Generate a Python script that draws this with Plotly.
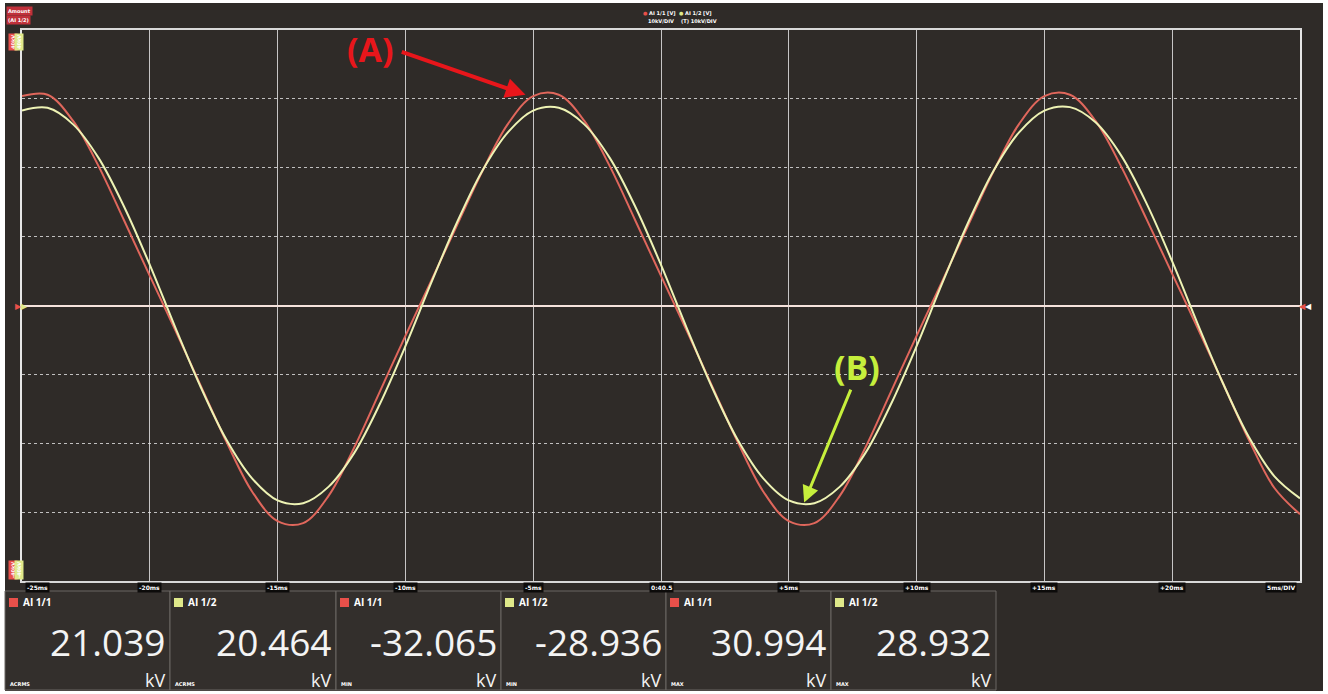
import plotly.graph_objects as go

# ---------------- data ----------------
# time axis in ms, sampled every 1 ms
time_ms = [-25, -24, -23, -22, -21, -20, -19, -18, -17, -16, -15, -14, -13, -12, -11,
           -10, -9, -8, -7, -6, -5, -4, -3, -2, -1, 0, 1, 2, 3, 4, 5, 6, 7, 8, 9,
           10, 11, 12, 13, 14, 15, 16, 17, 18, 19, 20, 21, 22, 23, 24, 25]

# AI 1/1 (red), kV
red_kv = [30.4, 30.6, 26.8, 20.2, 12.3, 4.3, -3.6, -11.7, -19.8, -27.0, -31.3, -31.6, -27.6,
          -20.6, -12.5, -4.4, 3.5, 11.5, 19.4, 26.3, 30.4, 30.6, 26.8, 20.2, 12.3, 4.3,
          -3.6, -11.7, -19.8, -27.0, -31.3, -31.6, -27.6, -20.6, -12.5, -4.4, 3.5, 11.5,
          19.4, 26.3, 30.4, 30.6, 26.8, 20.2, 12.5, 4.6, -3.3, -11.4, -19.5, -26.5, -30.3]

# AI 1/2 (yellow), kV
yel_kv = [28.3, 28.7, 26.3, 21.4, 14.3, 5.9, -3.2, -11.9, -19.5, -25.1, -28.3, -28.7, -26.3,
          -21.4, -14.3, -5.9, 3.2, 11.9, 19.5, 25.1, 28.3, 28.7, 26.3, 21.4, 14.3, 5.9,
          -3.2, -11.9, -19.5, -25.1, -28.3, -28.7, -26.3, -21.4, -14.3, -5.9, 3.2, 11.9,
          19.5, 25.1, 28.3, 28.8, 26.6, 21.8, 14.8, 6.4, -2.7, -11.4, -19.1, -24.8, -28.0]

tick_ms = [-25, -20, -15, -10, -5, 0, 5, 10, 15, 20, 25]
tick_txt = ["-25ms", "-20ms", "-15ms", "-10ms", "-5ms", "0:40.5", "+5ms", "+10ms",
            "+15ms", "+20ms", "5ms/DIV"]

panel_channels = ["AI 1/1", "AI 1/2", "AI 1/1", "AI 1/2", "AI 1/1", "AI 1/2"]
panel_values = ["21.039", "20.464", "-32.065", "-28.936", "30.994", "28.932"]
panel_stats = ["ACRMS", "ACRMS", "MIN", "MIN", "MAX", "MAX"]
panel_unit = "kV"

# ---------------- styling ----------------
RED = "#e0675c"
YEL = "#eef3b4"
RED_SW = "#e8504a"
YEL_SW = "#dfe98a"
BG = "#34302d"
OUT = "#2f2b28"

W, H = 1328, 694
PL, PR, PT, PB = 22, 1300, 30, 581   # plot area in pixels


def px(x):
    return (x - PL) / (PR - PL)


def py(y):
    return (PB - y) / (PB - PT)


fig = go.Figure()
fig.add_trace(go.Scatter(x=time_ms, y=red_kv, mode="lines", name="AI 1/1",
                         line=dict(color=RED, width=2, shape="spline", smoothing=1.0)))
fig.add_trace(go.Scatter(x=time_ms, y=yel_kv, mode="lines", name="AI 1/2",
                         line=dict(color=YEL, width=2, shape="spline", smoothing=1.0)))

shapes = []
# outer dark panel
shapes.append(dict(type="rect", xref="paper", yref="paper", layer="below",
                   x0=px(5), x1=px(1323), y0=py(691), y1=py(3),
                   fillcolor=OUT, line=dict(width=0)))
# bottom stat boxes
edges = [5, 170, 336, 501, 666, 831, 996]
for i in range(6):
    shapes.append(dict(type="rect", xref="paper", yref="paper", layer="below",
                       x0=px(edges[i]), x1=px(edges[i + 1]), y0=py(690), y1=py(591),
                       fillcolor="#332f2c", line=dict(color="#6a6663", width=1)))
    col = RED_SW if panel_channels[i] == "AI 1/1" else YEL_SW
    shapes.append(dict(type="rect", xref="paper", yref="paper",
                       x0=px(edges[i] + 4), x1=px(edges[i] + 13), y0=py(607), y1=py(598),
                       fillcolor=col, line=dict(width=0)))

annotations = []
# bottom time labels
for t, txt in zip(tick_ms, tick_txt):
    anchor = "center"
    xx = t
    if t == -25:
        anchor = "left"
        xx = -24.9
    if t == 25:
        anchor = "right"
        xx = 24.9
    annotations.append(dict(x=xx, y=py(587), xref="x", yref="paper", text="<b>%s</b>" % txt,
                            showarrow=False, xanchor=anchor, yanchor="middle",
                            font=dict(size=6, color="white", family="DejaVu Sans"),
                            bgcolor="#0c0b0a", borderpad=1))

# stat box texts
for i in range(6):
    x0, x1 = edges[i], edges[i + 1]
    annotations.append(dict(x=px(x0 + 16), y=py(602), xref="paper", yref="paper",
                            text="<b>%s</b>" % panel_channels[i], showarrow=False,
                            xanchor="left", yanchor="middle",
                            font=dict(size=10, color="white", family="Open Sans")))
    annotations.append(dict(x=px(x1 - 2), y=py(641), xref="paper", yref="paper",
                            text=panel_values[i], showarrow=False,
                            xanchor="right", yanchor="middle",
                            font=dict(size=37, color="#f4f4f4", family="Open Sans")))
    annotations.append(dict(x=px(x1 - 3), y=py(680), xref="paper", yref="paper",
                            text=panel_unit, showarrow=False,
                            xanchor="right", yanchor="middle",
                            font=dict(size=18, color="#f4f4f4", family="Open Sans")))
    annotations.append(dict(x=px(x0 + 3), y=py(684), xref="paper", yref="paper",
                            text="<b>%s</b>" % panel_stats[i], showarrow=False,
                            xanchor="left", yanchor="middle",
                            font=dict(size=5, color="white", family="DejaVu Sans")))

# (A) arrow and label
annotations.append(dict(x=-5.3, y=30.6, ax=-10.2, ay=36.9, xref="x", yref="y",
                        axref="x", ayref="y", text="", showarrow=True,
                        arrowhead=2, arrowsize=1.0, arrowwidth=4, arrowcolor="#e8161b"))
annotations.append(dict(x=-11.35, y=37.2, xref="x", yref="y", text="<b>(A)</b>",
                        showarrow=False, xanchor="center", yanchor="middle",
                        font=dict(size=34, color="#e8161b", family="Open Sans")))
# (B) arrow and label
annotations.append(dict(x=5.6, y=-28.6, ax=7.45, ay=-12.0, xref="x", yref="y",
                        axref="x", ayref="y", text="", showarrow=True,
                        arrowhead=2, arrowsize=1.1, arrowwidth=3, arrowcolor="#c6ef3c"))
annotations.append(dict(x=7.65, y=-9.0, xref="x", yref="y", text="<b>(B)</b>",
                        showarrow=False, xanchor="center", yanchor="middle",
                        font=dict(size=34, color="#c6ef3c", family="Open Sans")))

# top-left channel labels
annotations.append(dict(x=px(6), y=py(11), xref="paper", yref="paper", text="<b>Amount</b>",
                        showarrow=False, xanchor="left", yanchor="middle",
                        font=dict(size=5, color="white", family="DejaVu Sans"),
                        bgcolor="#c0303a", borderpad=1))
annotations.append(dict(x=px(6), y=py(20), xref="paper", yref="paper", text="<b>(AI 1/2)</b>",
                        showarrow=False, xanchor="left", yanchor="middle",
                        font=dict(size=5, color="white", family="DejaVu Sans"),
                        bgcolor="#c0303a", borderpad=1))
for xpix, col in [(13, RED_SW), (19, YEL_SW)]:
    annotations.append(dict(x=px(xpix), y=py(42), xref="paper", yref="paper",
                            text="<b>40kV</b>", textangle=-90, showarrow=False,
                            xanchor="center", yanchor="middle",
                            font=dict(size=5, color="white", family="DejaVu Sans"),
                            bgcolor=col))
    annotations.append(dict(x=px(xpix), y=py(570), xref="paper", yref="paper",
                            text="<b>-40kV</b>", textangle=-90, showarrow=False,
                            xanchor="center", yanchor="middle",
                            font=dict(size=5, color="white", family="DejaVu Sans"),
                            bgcolor=col))

# top legend
annotations.append(dict(x=px(641), y=py(13), xref="paper", yref="paper",
                        text="<span style='color:%s'>●</span><b> AI 1/1 [V]</b>" % RED_SW,
                        showarrow=False, xanchor="left", yanchor="middle",
                        font=dict(size=5, color="white", family="DejaVu Sans")))
annotations.append(dict(x=px(677), y=py(13), xref="paper", yref="paper",
                        text="<span style='color:%s'>●</span><b> AI 1/2 [V]</b>" % YEL_SW,
                        showarrow=False, xanchor="left", yanchor="middle",
                        font=dict(size=5, color="white", family="DejaVu Sans")))
annotations.append(dict(x=px(646), y=py(21), xref="paper", yref="paper",
                        text="<b>10kV/DIV</b>", showarrow=False, xanchor="left",
                        yanchor="middle", font=dict(size=5, color="white", family="DejaVu Sans")))
annotations.append(dict(x=px(679), y=py(21), xref="paper", yref="paper",
                        text="<b>(T) 10kV/DIV</b>", showarrow=False, xanchor="left",
                        yanchor="middle", font=dict(size=5, color="white", family="DejaVu Sans")))

# zero-level markers
annotations.append(dict(x=px(13), y=0.5, xref="paper", yref="paper", text="▶",
                        showarrow=False, font=dict(size=8, color=RED_SW)))
annotations.append(dict(x=px(19), y=0.5, xref="paper", yref="paper", text="▶",
                        showarrow=False, font=dict(size=8, color=YEL_SW)))
annotations.append(dict(x=px(1314), y=0.5, xref="paper", yref="paper",
                        text="<span style='color:%s'>◀</span>◀" % RED_SW,
                        showarrow=False, font=dict(size=8, color="white")))

fig.update_layout(
    width=W, height=H,
    margin=dict(l=PL, r=W - PR, t=PT, b=H - PB),
    paper_bgcolor="white",
    plot_bgcolor=BG,
    showlegend=False,
    shapes=shapes,
    annotations=annotations,
    xaxis=dict(range=[-25, 25], tickvals=tick_ms, showticklabels=False, ticks="",
               showgrid=True, gridcolor="rgba(225,225,225,0.85)", gridwidth=1.2,
               zeroline=False, showline=True, linecolor="#d9d9d9", linewidth=1.5,
               mirror=True, fixedrange=True),
    yaxis=dict(range=[-40, 40], dtick=10, showticklabels=False, ticks="",
               showgrid=True, gridcolor="rgba(230,230,230,0.8)", gridwidth=1.3,
               griddash="dot", zeroline=True, zerolinecolor="#f5e2dc", zerolinewidth=2.2,
               showline=True, linecolor="#e6e6e6", linewidth=1.5, mirror=True,
               fixedrange=True),
)

fig.write_html("out.html", config={"displayModeBar": False},
               post_script="document.body.style.margin='0';")
